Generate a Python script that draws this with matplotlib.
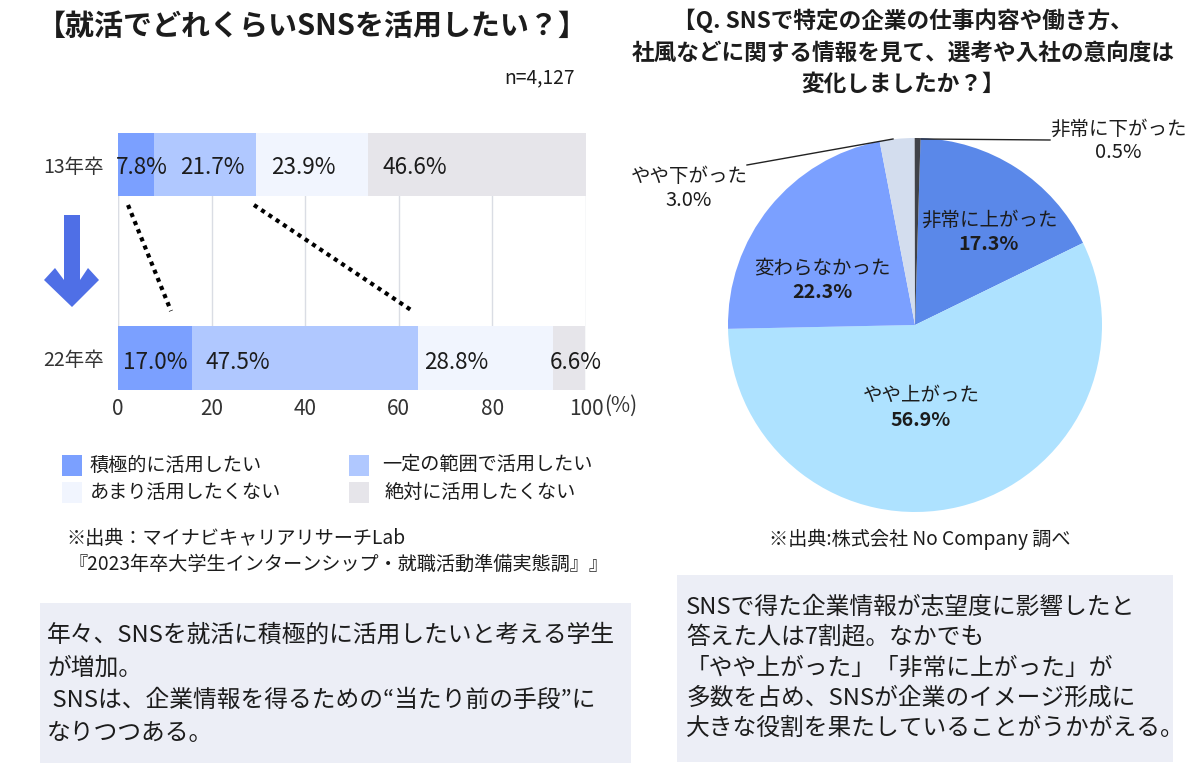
"""Recreates the SNS job hunting survey figure: stacked bars on the left, pie on the right."""
from matplotlib import pyplot as plt
from matplotlib.patches import Polygon, Rectangle

plt.rcParams['font.family'] = ['Noto Sans CJK JP', 'DejaVu Sans']

# stacked bars: widths as drawn in the picture, labels as printed on it
years = ['13年卒', '22年卒']
bar_widths_13 = [7.7, 21.8, 23.9, 46.6]
bar_widths_22 = [15.8, 48.3, 28.9, 6.7]
bar_labels_13 = ['7.8%', '21.7%', '23.9%', '46.6%']
bar_labels_22 = ['17.0%', '47.5%', '28.8%', '6.6%']
bar_names = ['積極的に活用したい', '一定の範囲で活用したい', 'あまり活用したくない', '絶対に活用したくない']
bar_colors = ['#7BA0FF', '#B0C8FF', '#F1F5FE', '#E6E5EA']
x_ticks = [0, 20, 40, 60, 80, 100]
x_tick_labels = ['0', '20', '40', '60', '80', '100']

# pie
pie_names = ['非常に上がった', 'やや上がった', '変わらなかった', 'やや下がった', '非常に下がった']
pie_values = [17.3, 56.9, 22.3, 3.0, 0.5]
pie_colors = ['#5A88E9', '#AEE2FF', '#7BA0FF', '#D3DDEE', '#404248']

W, H = 1200, 776
BOX = '#ECEEF6'


def px_axes(left, top, right, bottom, **kwargs):
    """Axes placed with pixel coordinates measured from the top left corner."""
    return fig.add_axes([left / W, 1 - bottom / H, (right - left) / W, (bottom - top) / H], **kwargs)


fig = plt.figure(figsize=(W / 100, H / 100), dpi=100)

# overlay in pixel coordinates for the boxes, text and decorations
over = px_axes(0, 0, W, H, zorder=5)
over.set_xlim(0, W)
over.set_ylim(H, 0)
over.axis('off')
over.patch.set_alpha(0)


def put(x, y, s, size=13.8, ha='center', weight='normal', color='#1c1c1c', linespacing=1.2):
    over.text(x, y, s, fontsize=size, ha=ha, va='center', fontweight=weight,
              color=color, linespacing=linespacing)


# stacked bar chart
ax = px_axes(118, 133, 586, 390)
ax.set_xlim(0, 100)
ax.set_ylim(1.165, -0.163)
# label starts relative to each segment, in axis units
offsets_13 = [-0.5, 5.5, 3.2, 3.2]
offsets_22 = [1.1, 2.8, 1.3, -0.8]
for pos, widths, labels, offsets, nudge in [(0, bar_widths_13, bar_labels_13, offsets_13, 0.015),
                                            (1, bar_widths_22, bar_labels_22, offsets_22, 0.025)]:
    left = 0
    for width, label, color, offset in zip(widths, labels, bar_colors, offsets):
        ax.barh(pos, width, left=left, height=0.328, color=color, zorder=3)
        ax.text(left + offset, pos + nudge, label, ha='left', va='center', fontsize=16.2,
                color='#1c1c1c', zorder=4, clip_on=False)
        left += width
ax.set_xticks(x_ticks)
ax.set_xticklabels(x_tick_labels, fontsize=15, color='#333333')
ax.set_yticks([0, 1])
ax.set_yticklabels(years, fontsize=14, color='#333333')
ax.tick_params(length=0)
ax.tick_params(axis='x', pad=5.5)
ax.tick_params(axis='y', pad=10)
ax.grid(axis='x', color='#DADDE4', lw=1, zorder=1)
for side in ax.spines.values():
    side.set_visible(False)
ax.axvline(0, color='#E3E5EA', lw=1, zorder=1)
put(604, 406, '(%)', size=15, ha='left', color='#333333')

# comparison dotted lines and the down arrow
over.plot([128, 171], [205, 311], color='black', lw=3, ls=(0, (1, 1.1)))
over.plot([254, 411], [205, 310], color='black', lw=3, ls=(0, (1, 1.1)))
over.add_patch(Polygon([(64, 215), (80, 215), (80, 280), (88, 268), (99, 280), (72, 307),
                        (44, 280), (55, 268), (64, 280)], color='#4F6FE6', lw=0))

# legend
for (x, y), color, name, text_x in zip([(62, 455), (349, 455), (62, 482), (349, 482)], bar_colors,
                                       bar_names, [90, 382, 90, 385]):
    over.add_patch(Rectangle((x, y), 20, 21, color=color, lw=0))
    put(text_x, y + 10, name, ha='left')

# titles and captions
put(312, 26, '【就活でどれくらいSNSを活用したい？】', size=20.9, weight='bold')
put(575, 78, 'n=4,127', ha='right')
put(66, 538, '※出典：マイナビキャリアリサーチLab', ha='left')
put(68, 564, '『2023年卒大学生インターンシップ・就職活動準備実態調』』', ha='left')
put(903, 52, '【Q. SNSで特定の企業の仕事内容や働き方、\n社風などに関する情報を見て、選考や入社の意向度は\n変化しましたか？】',
    size=16.3, weight='bold', linespacing=1.48)
put(920, 539, '※出典:株式会社 No Company 調べ')

# pie chart
pie_ax = px_axes(728, 138, 1102, 512)
pie_ax.pie(pie_values, colors=pie_colors, startangle=88.3, counterclock=False, radius=1)
pie_ax.set_xlim(-1, 1)
pie_ax.set_ylim(-1, 1)

for x, y, name, value in [(989, 220, pie_names[0], pie_values[0]), (921, 395, pie_names[1], pie_values[1]),
                          (822, 268, pie_names[2], pie_values[2])]:
    put(x, y, name, size=14)
    put(x, y + 25, f'{value}%', size=14.2, weight='bold')
put(689, 176, pie_names[3], size=14)
put(689, 201, f'{pie_values[3]}%', size=14.5)
put(1118, 129, pie_names[4], size=14)
put(1118, 153, f'{pie_values[4]}%', size=14.5)
over.plot([747, 893], [165, 139], color='#222222', lw=1)
over.plot([921, 1050], [139, 140], color='#222222', lw=1)

# comment boxes
over.add_patch(Rectangle((40, 603), 591, 160, color=BOX, lw=0, zorder=0))
over.add_patch(Rectangle((677, 575), 496, 187, color=BOX, lw=0, zorder=0))
put(47, 684, '年々、SNSを就活に積極的に活用したいと考える学生\nが増加。\n SNSは、企業情報を得るための“当たり前の手段”に\nなりつつある。',
    size=17.1, ha='left', linespacing=1.54)
put(686, 668, 'SNSで得た企業情報が志望度に影響したと\n答えた人は7割超。なかでも\n「やや上がった」「非常に上がった」が\n多数を占め、SNSが企業のイメージ形成に\n大きな役割を果たしていることがうかがえる。',
    size=17.1, ha='left', linespacing=1.39)

fig.savefig('out.png', dpi=100)
